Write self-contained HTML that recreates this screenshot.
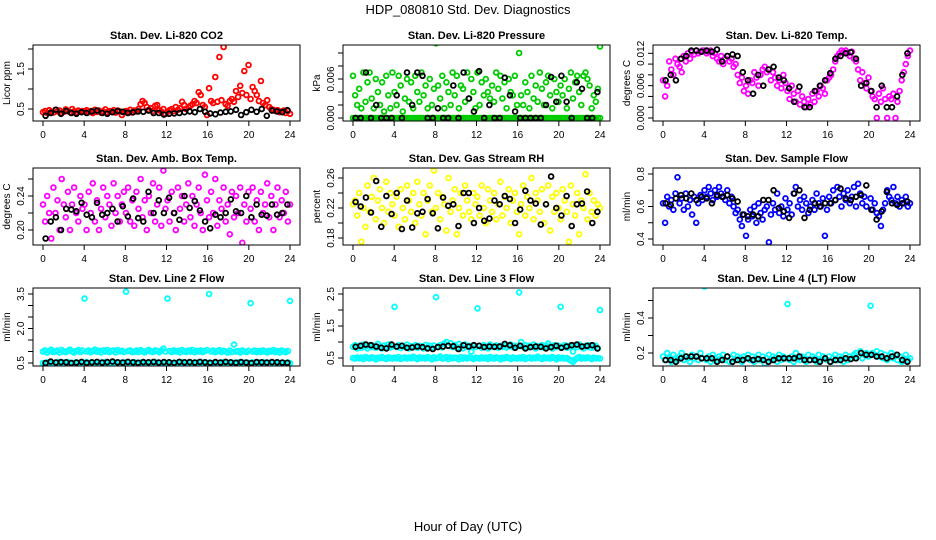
<!DOCTYPE html>
<html><head><meta charset="utf-8"><style>
html,body{margin:0;padding:0;background:#fff;}
svg{display:block;font-family:"Liberation Sans",sans-serif;}
</style></head><body>
<svg id="chart" width="936" height="540" viewBox="0 0 936 540">
<text x="468" y="14" text-anchor="middle" font-size="13">HDP_080810  Std. Dev. Diagnostics</text>
<text x="468" y="531" text-anchor="middle" font-size="13">Hour of Day (UTC)</text>
</svg>
<script>
const hourTicks = [0,4,8,12,16,20,24];
const co2Vals = [0.42,0.45,0.40,0.47,0.43,0.41,0.48,0.44,0.46,0.40,0.43,0.49,0.45,0.42,0.50,0.44,0.41,0.46,0.43,0.45,
0.44,0.47,0.42,0.45,0.40,0.48,0.43,0.46,0.41,0.44,0.49,0.42,0.45,0.43,0.47,0.41,0.46,0.44,0.35,0.42,
0.45,0.43,0.48,0.41,0.46,0.44,0.50,0.62,0.70,0.65,0.55,0.48,0.52,0.45,0.58,0.60,0.47,0.44,0.50,0.38,
0.43,0.47,0.50,0.45,0.55,0.48,0.52,0.68,0.60,0.50,0.55,0.58,0.62,0.70,0.65,0.92,0.85,0.60,0.55,0.35,
1.02,0.70,0.65,1.30,0.68,1.80,0.72,2.05,0.62,0.58,0.70,0.75,0.68,0.95,0.80,1.08,0.90,1.45,0.85,1.60,
0.75,1.05,0.95,0.85,0.70,1.20,0.65,0.60,0.72,0.55,0.50,0.48,0.45,0.47,0.42,0.44,0.46,0.40,0.45,0.38];
const co2Black = [0.33,0.40,0.48,0.38,0.45,0.40,0.38,0.42,0.40,0.44,0.46,0.40,0.38,0.42,0.45,0.43,0.40,0.42,0.44,0.43,0.46,0.40,0.40,0.36,0.38,0.39,0.40,0.42,0.44,0.42,0.50,0.43,0.39,0.37,0.41,0.43,0.44,0.48,0.35,0.42,0.48,0.43,0.50,0.33,0.46,0.44,0.42,0.47];
const presVals = [6.5,3.5,2.0,4.5,1.5,7.0,2.5,5.5,7.0,3.0,1.5,6.0,4.0,2.0,5.5,1.0,6.5,3.5,1.5,7.0,
4.0,2.0,6.5,5.0,1.0,3.0,6.0,2.5,5.5,1.5,6.5,4.0,2.5,7.0,3.5,5.0,1.5,6.0,2.0,4.5,
11.5,5.0,3.0,6.5,1.5,5.5,4.0,2.0,7.0,3.5,6.5,1.5,5.0,4.5,2.5,7.0,3.0,6.0,4.0,1.5,
7.0,2.0,5.5,3.5,6.0,4.0,3.0,5.0,2.5,7.0,4.5,6.5,3.0,5.5,1.5,6.0,4.0,3.5,6.5,2.0,
10.0,3.5,2.0,5.5,4.0,1.5,6.5,3.0,5.0,2.5,7.0,4.5,2.0,5.5,6.5,3.5,1.5,6.0,4.0,2.5,
5.0,3.5,6.0,1.5,4.5,7.0,3.0,5.5,6.5,4.0,2.0,6.5,7.0,6.0,5.0,1.5,3.5,2.5,4.5,11.0];
const presZero = [0,0,0,0,0,0,0,0,0,0,0,0,0,0,0,0,0,0,0,0,0,0,0,0,0,0,0,0,0,0,0,0,0,0,0,0,0,0,0,0,
0,0,0,0,0,0,0,0,0,0,0,0,0,0,0,0,0,0,0,0,0,0,0,0,0,0,0,0,0,0,0,0,0,0,0,0,0,0,0,0,
0,0,0,0,0,0,0,0,0,0,0,0,0,0,0,0,0,0,0,0,0,0,0,0,0,0,0,0,0,0,0,0,0,0,0,0,0,0,0,0];
const presBlack = [0,0,7.0,0,2.0,0,0,0,3.5,0,7.0,2.0,7.0,6.5,0,0,1.5,0,0,5.0,0,7.0,3.0,1.0,7.2,0,2.0,0,0,6.2,3.5,1.0,0,0,0,0,0,2.0,6.3,2.5,6.5,2.5,0,5.5,4.5,0,0,4.0];
const tempVals = [7.0,4.0,6.0,10.5,9.0,8.0,11.0,10.0,9.5,8.5,11.5,10.5,12.0,11.0,12.3,11.8,12.5,12.0,12.3,12.5,
12.5,12.0,12.3,12.5,11.5,12.0,11.0,10.5,11.5,10.0,11.0,11.5,10.5,11.0,9.5,10.0,8.0,6.5,7.5,5.0,
6.0,4.5,7.0,6.5,8.5,7.5,6.0,8.0,9.0,9.5,8.5,9.0,7.0,8.5,7.5,6.0,7.0,5.5,8.0,6.5,
5.0,3.5,6.0,4.5,3.0,5.0,2.5,4.0,3.0,2.0,3.5,2.5,4.5,3.0,5.0,4.0,6.0,5.5,4.5,7.0,
7.5,8.0,9.0,10.5,11.5,12.0,12.5,12.2,12.5,12.0,11.5,12.3,11.0,10.5,9.0,7.0,8.5,6.5,5.5,7.5,
5.0,4.0,3.5,0.0,4.5,3.0,5.5,3.5,0.0,4.0,3.5,4.5,0.0,3.0,5.0,7.0,8.5,10.0,11.5,12.5];
const tempBlack = [7.0,8.0,7.0,11.0,11.5,12.5,12.5,12.3,12.5,12.3,12.7,10.5,11.5,11.8,11.5,8.5,7.0,4.5,8.0,6.0,9.0,9.5,7.5,7.0,5.5,3.0,5.8,2.0,2.0,5.0,6.0,7.0,8.3,11.0,11.5,12.0,12.2,11.0,6.0,6.5,5.0,2.0,6.0,2.0,2.0,4.0,8.0,12.0];
const ambVals = [0.23,0.21,0.24,0.22,0.19,0.25,0.22,0.235,0.20,0.26,0.23,0.215,0.245,0.20,0.23,0.25,0.22,0.21,0.24,0.225,
0.23,0.20,0.245,0.22,0.255,0.21,0.235,0.20,0.225,0.25,0.215,0.24,0.23,0.205,0.255,0.22,0.24,0.21,0.23,0.245,
0.22,0.25,0.21,0.235,0.205,0.245,0.225,0.26,0.215,0.235,0.20,0.24,0.22,0.255,0.21,0.23,0.25,0.205,0.27,0.225,
0.235,0.21,0.245,0.22,0.20,0.25,0.225,0.24,0.21,0.23,0.255,0.215,0.24,0.205,0.23,0.25,0.22,0.20,0.265,0.235,
0.215,0.245,0.22,0.26,0.205,0.235,0.225,0.25,0.21,0.23,0.195,0.245,0.215,0.24,0.22,0.25,0.185,0.23,0.21,0.245,
0.225,0.25,0.21,0.235,0.20,0.245,0.22,0.23,0.255,0.215,0.24,0.20,0.23,0.25,0.215,0.235,0.22,0.245,0.21,0.23];
const ambBlack = [0.19,0.21,0.215,0.20,0.225,0.224,0.222,0.232,0.218,0.215,0.232,0.218,0.22,0.225,0.21,0.228,0.216,0.237,0.214,0.21,0.245,0.22,0.235,0.22,0.238,0.22,0.212,0.24,0.226,0.234,0.223,0.21,0.202,0.218,0.215,0.22,0.236,0.222,0.22,0.24,0.215,0.23,0.218,0.217,0.23,0.218,0.22,0.23];
const rhVals = [0.225,0.23,0.21,0.24,0.175,0.22,0.195,0.25,0.215,0.235,0.26,0.205,0.23,0.245,0.22,0.20,0.255,0.215,0.24,0.225,
0.21,0.235,0.195,0.245,0.22,0.205,0.25,0.23,0.215,0.24,0.20,0.255,0.225,0.21,0.24,0.185,0.23,0.25,0.215,0.27,
0.22,0.24,0.205,0.235,0.225,0.19,0.26,0.215,0.23,0.245,0.185,0.22,0.24,0.21,0.25,0.23,0.215,0.205,0.24,0.225,
0.235,0.21,0.25,0.22,0.20,0.245,0.23,0.215,0.24,0.205,0.225,0.255,0.21,0.235,0.22,0.245,0.20,0.23,0.24,0.215,
0.185,0.225,0.25,0.21,0.235,0.22,0.26,0.205,0.24,0.23,0.215,0.245,0.20,0.225,0.25,0.19,0.235,0.215,0.24,0.22,
0.205,0.245,0.23,0.215,0.175,0.25,0.225,0.21,0.24,0.185,0.23,0.22,0.265,0.205,0.24,0.215,0.23,0.21,0.225,0.22];
const rhBlack = [0.228,0.222,0.234,0.214,0.256,0.195,0.236,0.212,0.24,0.192,0.23,0.194,0.213,0.215,0.232,0.213,0.193,0.234,0.223,0.225,0.196,0.24,0.24,0.2,0.22,0.203,0.206,0.23,0.225,0.236,0.232,0.2,0.218,0.243,0.23,0.226,0.198,0.225,0.262,0.22,0.21,0.236,0.196,0.225,0.226,0.242,0.2,0.215];
const flowVals = [0.62,0.50,0.66,0.60,0.64,0.58,0.68,0.78,0.62,0.65,0.58,0.68,0.60,0.64,0.55,0.66,0.50,0.62,0.67,0.64,
0.70,0.66,0.72,0.68,0.64,0.70,0.66,0.72,0.68,0.66,0.64,0.70,0.62,0.66,0.60,0.56,0.58,0.52,0.48,0.55,
0.42,0.52,0.58,0.54,0.60,0.50,0.62,0.56,0.52,0.58,0.60,0.38,0.55,0.62,0.58,0.68,0.56,0.60,0.54,0.65,
0.58,0.62,0.55,0.68,0.72,0.60,0.64,0.58,0.66,0.62,0.56,0.60,0.64,0.58,0.68,0.62,0.60,0.65,0.42,0.58,
0.66,0.62,0.70,0.64,0.72,0.66,0.60,0.68,0.64,0.70,0.62,0.66,0.72,0.60,0.74,0.68,0.62,0.66,0.60,0.95,
0.65,0.58,0.62,0.56,0.54,0.48,0.58,0.62,0.70,0.66,0.64,0.72,0.62,0.66,0.60,0.64,0.62,0.66,0.60,0.62];
const flowBlack = [0.62,0.61,0.65,0.67,0.65,0.68,0.64,0.66,0.65,0.62,0.67,0.66,0.67,0.65,0.63,0.55,0.54,0.55,0.54,0.64,0.64,0.70,0.59,0.57,0.53,0.68,0.70,0.53,0.58,0.62,0.60,0.62,0.62,0.64,0.71,0.65,0.64,0.66,0.67,0.73,0.58,0.52,0.57,0.69,0.62,0.61,0.62,0.63];
const line2High = [1.0,1.05,0.95,1.02,1.08,0.98,1.0,1.04,0.96,1.06,1.0,0.97,1.03,1.08,1.0,0.95,1.02,1.06,0.98,1.04,
3.3,1.0,1.05,0.97,1.02,1.08,0.99,1.03,0.96,1.05,1.0,1.07,0.98,1.02,1.04,0.96,1.06,1.0,1.03,0.98,
3.6,1.02,1.05,0.97,1.0,1.04,0.98,1.06,1.01,0.96,1.03,1.07,1.0,0.98,1.05,1.02,0.97,1.04,1.12,1.0,
3.3,1.02,0.98,1.05,1.0,1.03,0.96,1.06,1.01,0.98,1.04,1.0,1.07,0.97,1.03,1.0,1.05,0.98,1.02,1.06,
3.5,1.0,1.04,0.97,1.02,1.06,0.98,1.03,1.0,0.95,1.04,0.98,1.3,1.0,1.02,0.96,1.05,1.0,0.98,1.03,
3.1,1.0,1.04,0.97,1.02,0.98,1.05,1.0,0.96,1.03,1.0,1.06,0.98,1.02,0.95,1.04,1.0,0.97,1.02,3.2];
const line2Low = [0.50,0.47,0.53,0.49,0.52,0.46,0.51,0.54,0.48,0.50,0.52,0.47,0.55,0.49,0.51,0.46,0.53,0.50,0.48,0.52,
0.49,0.54,0.47,0.51,0.50,0.46,0.53,0.49,0.52,0.48,0.55,0.50,0.47,0.51,0.53,0.49,0.46,0.52,0.50,0.48,
0.53,0.49,0.51,0.47,0.54,0.50,0.48,0.52,0.46,0.51,0.49,0.53,0.50,0.47,0.55,0.49,0.51,0.48,0.52,0.50,
0.47,0.53,0.49,0.51,0.46,0.52,0.50,0.54,0.48,0.51,0.49,0.53,0.47,0.50,0.52,0.48,0.55,0.49,0.51,0.46,
0.52,0.50,0.48,0.53,0.49,0.51,0.47,0.54,0.50,0.48,0.52,0.46,0.51,0.49,0.53,0.50,0.47,0.52,0.48,0.51,
0.49,0.53,0.47,0.50,0.52,0.48,0.54,0.49,0.51,0.46,0.52,0.50,0.48,0.53,0.49,0.51,0.47,0.50,0.52,0.49];
const line2Black = [0.50,0.56,0.52,0.54,0.53,0.50,0.52,0.55,0.51,0.53,0.55,0.52,0.54,0.56,0.53,0.52,0.55,0.53,0.51,0.54,0.53,0.55,0.52,0.54,0.53,0.51,0.55,0.53,0.54,0.52,0.55,0.53,0.51,0.54,0.52,0.55,0.53,0.51,0.54,0.52,0.50,0.54,0.53,0.52,0.54,0.53,0.52,0.51];
const line3High = [0.85,0.90,0.80,0.88,0.82,0.92,0.86,0.80,0.90,0.84,0.88,0.82,0.94,0.86,0.80,0.89,0.85,0.92,0.83,0.87,
2.10,0.84,0.90,0.81,0.88,0.85,0.92,0.80,0.87,0.84,0.90,0.82,0.88,0.86,0.80,0.91,0.84,0.88,0.82,0.89,
2.40,0.86,0.90,0.83,0.95,1.00,0.88,0.96,0.84,0.90,0.82,0.94,0.86,0.80,0.92,0.85,0.88,0.70,0.90,0.84,
2.05,0.88,0.82,0.90,0.85,0.80,0.92,0.86,0.84,0.89,0.82,0.88,0.85,0.90,0.83,0.87,0.92,0.84,0.88,0.86,
2.55,1.00,0.84,0.90,0.82,0.88,0.85,0.92,0.80,0.87,0.84,0.90,0.82,0.88,0.95,0.86,0.80,0.90,0.84,0.88,
2.10,0.85,0.90,0.82,0.88,0.86,0.70,0.90,0.84,0.92,0.86,0.80,0.88,0.84,0.90,0.82,0.86,0.88,0.80,2.00];
const line3Low = [0.50,0.48,0.52,0.49,0.51,0.47,0.53,0.50,0.48,0.52,0.50,0.46,0.51,0.49,0.53,0.50,0.47,0.52,0.50,0.48,
0.51,0.49,0.53,0.47,0.50,0.52,0.48,0.51,0.49,0.54,0.50,0.47,0.52,0.49,0.51,0.48,0.53,0.50,0.46,0.52,
0.49,0.51,0.55,0.48,0.50,0.53,0.47,0.52,0.49,0.51,0.50,0.46,0.53,0.48,0.51,0.49,0.52,0.50,0.47,0.51,
0.50,0.48,0.52,0.49,0.51,0.47,0.53,0.50,0.48,0.52,0.50,0.46,0.51,0.49,0.53,0.50,0.47,0.52,0.50,0.48,
0.51,0.49,0.53,0.47,0.50,0.52,0.48,0.51,0.49,0.54,0.50,0.47,0.52,0.49,0.51,0.48,0.53,0.50,0.46,0.52,
0.49,0.51,0.48,0.50,0.46,0.42,0.38,0.45,0.50,0.53,0.48,0.51,0.49,0.52,0.50,0.47,0.51,0.49,0.50,0.48];
const line3Black = [0.85,0.88,0.92,0.90,0.86,0.82,0.80,0.92,0.86,0.88,0.82,0.83,0.86,0.84,0.80,0.78,0.84,0.86,0.88,0.87,0.78,0.90,0.86,0.90,0.88,0.84,0.86,0.85,0.86,0.94,0.90,0.82,0.88,0.80,0.84,0.86,0.85,0.80,0.84,0.88,0.82,0.86,0.90,0.92,0.86,0.88,0.90,0.80];
const line4Vals = [0.18,0.16,0.20,0.17,0.15,0.19,0.17,0.16,0.18,0.20,0.16,0.18,0.17,0.15,0.19,0.17,0.18,0.16,0.20,0.17,
0.58,0.16,0.18,0.15,0.19,0.17,0.16,0.18,0.17,0.19,0.16,0.18,0.15,0.17,0.19,0.16,0.18,0.17,0.15,0.18,
0.17,0.19,0.16,0.18,0.15,0.17,0.19,0.16,0.18,0.14,0.17,0.19,0.16,0.18,0.17,0.15,0.19,0.16,0.18,0.17,
0.48,0.16,0.18,0.15,0.20,0.17,0.16,0.18,0.17,0.15,0.19,0.16,0.18,0.17,0.15,0.19,0.16,0.18,0.17,0.16,
0.18,0.15,0.17,0.19,0.16,0.18,0.17,0.15,0.19,0.16,0.18,0.17,0.19,0.20,0.18,0.21,0.17,0.19,0.20,0.18,
0.47,0.20,0.19,0.21,0.18,0.20,0.17,0.19,0.16,0.18,0.20,0.17,0.19,0.16,0.18,0.15,0.17,0.19,0.16,0.17];
const line4Black = [0.16,0.16,0.15,0.17,0.18,0.18,0.18,0.17,0.17,0.17,0.15,0.16,0.18,0.15,0.16,0.16,0.17,0.16,0.165,0.16,0.15,0.16,0.17,0.17,0.17,0.17,0.18,0.16,0.16,0.16,0.15,0.17,0.15,0.16,0.16,0.17,0.165,0.17,0.20,0.19,0.19,0.18,0.18,0.17,0.18,0.19,0.16,0.15];

const NS = "http://www.w3.org/2000/svg";
const svg = document.getElementById('chart');
const colLeft = [33, 343, 653];
const rowTop = [45, 168, 288];
const rowBot = [121, 245, 366];

function el(tag, attrs, parent) {
  const e = document.createElementNS(NS, tag);
  for (const k in attrs) e.setAttribute(k, attrs[k]);
  parent.appendChild(e);
  return e;
}

function panel(cfg) {
  const L = colLeft[cfg.col], R = L + 267, T = rowTop[cfg.row], B = rowBot[cfg.row];
  const g = el('g', {}, svg);
  
  
  const xs = h => L + 10 + h * (247 / 24);
  const [v1, p1, v2, p2] = cfg.cal;
  const ys = v => p1 + (v - v1) * (p2 - p1) / (v2 - v1);
  const clipId = 'clip-' + cfg.name;
  const cp = el('clipPath', {id: clipId}, g);
  el('rect', {x: L, y: T, width: R - L, height: B - T}, cp);
  const t = el('text', {x: (L + R) / 2, y: T - 6, 'text-anchor': 'middle', 'font-size': 11, 'font-weight': 'bold'}, g);
  t.textContent = cfg.title;
  
  
  const yl = el('text', {transform: `translate(${L - 23},${(T + B) / 2}) rotate(-90)`, 'text-anchor': 'middle', 'font-size': 10}, g);
  yl.textContent = cfg.ylab;
  
  
  const pts = el('g', {'clip-path': `url(#${clipId})`, fill: 'none', 'stroke-width': 1.8}, g);
  
  
  cfg.series.forEach(s => {
    const n = s.vals.length;
    s.vals.forEach((v, i) => {
      const h = s.black ? i * 0.5 + 0.25 : i * 24 / (n - 1);
      const c = el('circle', {cx: xs(h).toFixed(1), cy: ys(v * cfg.scale).toFixed(1), r: 2.4, stroke: s.color}, pts);
      
      
    });
  });
  const box = el('rect', {x: L, y: T, width: R - L, height: B - T, fill: 'none', stroke: '#000', 'stroke-width': 1}, g);
  
  
  hourTicks.forEach(h => {
    el('line', {x1: xs(h), x2: xs(h), y1: B, y2: B + 5, stroke: '#000'}, g);
    const tx = el('text', {x: xs(h), y: B + 17, 'text-anchor': 'middle', 'font-size': 10}, g);
    tx.textContent = h;
    
    
  });
  cfg.yticks.forEach(v => {
    el('line', {x1: L - 5, x2: L, y1: ys(v), y2: ys(v), stroke: '#000'}, g);
  });
  cfg.ylabels.forEach(lab => {
    const ty = el('text', {transform: `translate(${L - 9},${ys(parseFloat(lab))}) rotate(-90)`, 'text-anchor': 'middle', 'font-size': 10}, g);
    ty.textContent = lab;
    
    
  });
}

panel({name:'co2', col:0, row:0, title:'Stan. Dev. Li-820 CO2', ylab:'Licor ppm', cal:[0.5,109,2.0,49], scale:1,
  yticks:[0.5,1.0,1.5,2.0], ylabels:['0.5','1.5'],
  series:[{vals:co2Vals,color:'#ff0000'},{vals:co2Black,color:'#000',black:true}]});
panel({name:'pressure', col:1, row:0, title:'Stan. Dev. Li-820 Pressure', ylab:'kPa', cal:[0,118,0.006,79], scale:0.001,
  yticks:[0,0.002,0.004,0.006,0.008,0.010], ylabels:['0.000','0.006'],
  series:[{vals:presVals,color:'#00cc00'},{vals:presZero,color:'#00cc00'},{vals:presBlack,color:'#000',black:true}]});
panel({name:'temp', col:2, row:0, title:'Stan. Dev. Li-820 Temp.', ylab:'degrees C', cal:[0,118,0.012,53.3], scale:0.001,
  yticks:[0,0.002,0.004,0.006,0.008,0.010,0.012], ylabels:['0.000','0.006','0.012'],
  series:[{vals:tempVals,color:'#ff00ff'},{vals:tempBlack,color:'#000',black:true}]});
panel({name:'amb-temp', col:0, row:1, title:'Stan. Dev. Amb. Box Temp.', ylab:'degrees C', cal:[0.20,230,0.24,196], scale:1,
  yticks:[0.20,0.22,0.24,0.26], ylabels:['0.20','0.24'],
  series:[{vals:ambVals,color:'#ff00ff'},{vals:ambBlack,color:'#000',black:true}]});
panel({name:'rh', col:1, row:1, title:'Stan. Dev. Gas Stream RH', ylab:'percent', cal:[0.18,238,0.26,178], scale:1,
  yticks:[0.18,0.20,0.22,0.24,0.26], ylabels:['0.18','0.22','0.26'],
  series:[{vals:rhVals,color:'#ffff00'},{vals:rhBlack,color:'#000',black:true}]});
panel({name:'sample-flow', col:2, row:1, title:'Stan. Dev. Sample Flow', ylab:'ml/min', cal:[0.4,239,0.8,174], scale:1,
  yticks:[0.4,0.5,0.6,0.7,0.8], ylabels:['0.4','0.6','0.8'],
  series:[{vals:flowVals,color:'#0000ff'},{vals:flowBlack,color:'#000',black:true}]});
panel({name:'line2', col:0, row:2, title:'Stan. Dev. Line 2 Flow', ylab:'ml/min', cal:[0.5,363,3.5,294], scale:1,
  yticks:[0.5,1.0,1.5,2.0,2.5,3.0,3.5], ylabels:['0.5','2.0','3.5'],
  series:[{vals:line2High,color:'#00ffff'},{vals:line2Low,color:'#00ffff'},{vals:line2Black,color:'#000',black:true}]});
panel({name:'line3', col:1, row:2, title:'Stan. Dev. Line 3 Flow', ylab:'ml/min', cal:[0.5,358,2.5,294], scale:1,
  yticks:[0.5,1.0,1.5,2.0,2.5], ylabels:['0.5','1.5','2.5'],
  series:[{vals:line3High,color:'#00ffff'},{vals:line3Low,color:'#00ffff'},{vals:line3Black,color:'#000',black:true}]});
panel({name:'line4', col:2, row:2, title:'Stan. Dev. Line 4 (LT) Flow', ylab:'ml/min', cal:[0.2,353,0.4,318], scale:1,
  yticks:[0.2,0.3,0.4,0.5], ylabels:['0.2','0.4'],
  series:[{vals:line4Vals,color:'#00ffff'},{vals:line4Black,color:'#000',black:true}]});
</script>
</body></html>
